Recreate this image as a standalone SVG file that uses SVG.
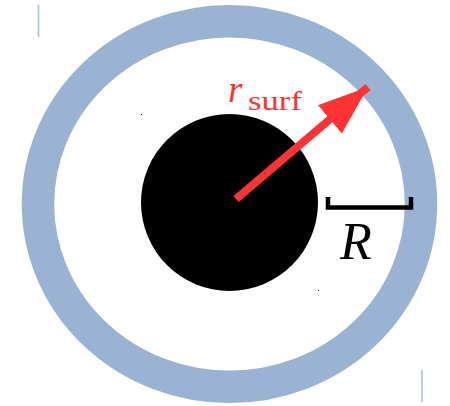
<svg xmlns="http://www.w3.org/2000/svg" width="450" height="406" viewBox="0 0 450 406">
<defs>
<style>
.ring{fill:none;stroke:#9ab3d2;stroke-width:32.5}
.tick{stroke:#a9c0dc;stroke-width:1.6}
text{font-family:"Liberation Serif","DejaVu Serif",serif}
</style>
<marker id="ah" markerUnits="userSpaceOnUse" markerWidth="52" markerHeight="38" refX="50" refY="18.5" orient="auto">
<path d="M0,0 L50,18.5 L0,37 Z" fill="#ff3333"/>
</marker>
</defs>
<rect width="450" height="406" fill="#ffffff"/>
<g id="ring"><ellipse class="ring" cx="229.5" cy="204" rx="191.5" ry="182.8"/></g>
<g id="marks">
<line class="tick" x1="38.5" y1="5" x2="38.5" y2="37"/>
<line class="tick" x1="422" y1="370" x2="422" y2="402"/>
<rect x="141" y="114" width="1" height="1" fill="#000"/>
<rect x="318" y="290" width="1" height="1" fill="#000"/>
</g>
<g id="core"><circle cx="229.5" cy="202.5" r="88.5" fill="#000000"/></g>
<g id="connectors">
<line x1="236" y1="199" x2="368" y2="87" stroke="#ff3333" stroke-width="8" marker-end="url(#ah)"/>
</g>
<g id="r_surf_label" fill="#ff3333">
<text x="228" y="102" font-size="37" font-style="italic">r</text>
<text x="248" y="110" font-size="28" textLength="54" lengthAdjust="spacingAndGlyphs">surf</text>
</g>
<g id="scalebar">
<path d="M328,197 V207.5 H411 V197" fill="none" stroke="#000" stroke-width="4.5"/>
<text x="340" y="259" font-size="52" font-style="italic">R</text>
</g>
</svg>
